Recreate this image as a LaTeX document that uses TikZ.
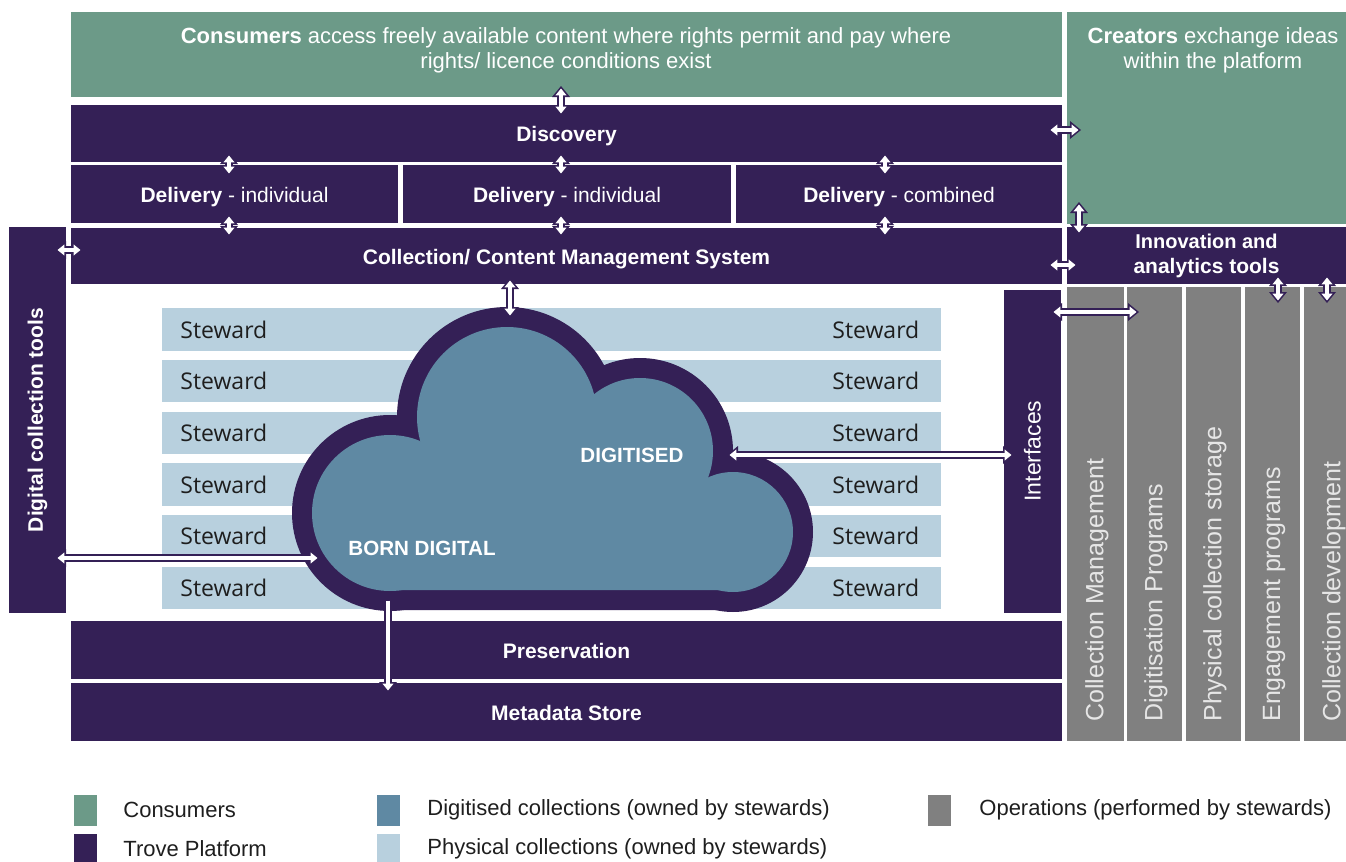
\documentclass[tikz,border=0pt]{standalone}
\usepackage{fontspec}
\setmainfont{Liberation Sans}
\newfontfamily\stewfont{Open Sans}
\usetikzlibrary{arrows.meta}
\definecolor{tgreen}{HTML}{6C9A88}
\definecolor{tpurple}{HTML}{342056}
\definecolor{tcloud}{HTML}{5F89A3}
\definecolor{tlight}{HTML}{B8D0DE}
\definecolor{tgray}{HTML}{808080}
\definecolor{tgtext}{HTML}{E6E6E6}
\definecolor{ttext}{HTML}{1E1E1E}
\newcommand\bx[7]{\node[#6, minimum width={(#4-#2)*0.5pt}, minimum height={(#5-#3)*0.5pt}] (#1) at ({(#2+#4)/2},{(#3+#5)/2}) {#7};}
\newcommand\dblarr[2]{\draw[arrout,tipo-tipo] (#1) -- (#2); \draw[arrin,tipi-tipi] (#1) -- (#2);}
\newcommand\sglarr[2]{\draw[arrout,-tipo] (#1) -- (#2); \draw[arrin,-tipi] (#1) -- (#2);}
\tikzset{
  pbox/.style={rectangle, inner sep=0pt, outer sep=0pt, fill=tpurple, text=white, align=center, font=\bfseries\fontsize{10.5}{12.5}\selectfont},
  box/.style={pbox, text height=8.3pt, text depth=0pt},
  gbox/.style={pbox, fill=tgreen},
  graybox/.style={pbox, fill=tgray},
  stewbox/.style={pbox, fill=tlight},
  swatch/.style={pbox},
  txt/.style={inner sep=0pt, outer sep=0pt, align=center, text=white, font=\fontsize{11}{12.5}\selectfont},
  btxt/.style={txt, font=\bfseries\fontsize{10.5}{12.5}\selectfont},
  graytxt/.style={inner sep=0pt, rotate=90, anchor=west, text=tgtext, font=\fontsize{12.5}{14}\selectfont},
  stewtxt/.style={inner sep=0pt, anchor=west, text=ttext, font=\stewfont\fontsize{11.5}{13}\selectfont},
  legtxt/.style={inner sep=0pt, anchor=west, text=ttext, font=\fontsize{11}{13}\selectfont},
  arrout/.style={draw=tpurple, line width=4pt},
  arrin/.style={draw=white, line width=2.4pt, shorten <=1.26pt, shorten >=1.26pt},
  tipo/.tip={Triangle[length=5.5pt,width=9pt,line width=0pt]},
  tipi/.tip={Triangle[length=3.45pt,width=5.6pt,line width=0pt]},
}
\begin{document}
\begin{tikzpicture}[x=0.5pt,y=-0.5pt]
\useasboundingbox (0,0) rectangle (1346,862);
% consumers / creators
\bx{consumers}{71}{12}{1062}{97}{gbox}{}
\node[txt] (constext) at (566,50) {\textbf{Consumers} access freely available content where rights permit and pay where\\rights/ licence conditions exist};
\bx{creators}{1067}{12}{1346}{224}{gbox}{}
\node[txt] (cretext) at (1213,50) {\textbf{Creators} exchange ideas\\within the platform};
% platform rows
\bx{disc}{71}{105}{1062}{162}{box}{Discovery}
\bx{del1}{71}{165}{398}{223}{box}{\mdseries\textbf{Delivery} - individual}
\bx{del2}{403}{165}{731}{223}{box}{\mdseries\textbf{Delivery} - individual}
\bx{del3}{736}{165}{1062}{223}{box}{\mdseries\textbf{Delivery} - combined}
\bx{cms}{71}{228}{1062}{284}{box}{Collection/ Content Management System}
\bx{innov}{1067}{227}{1346}{284}{pbox}{\fontsize{10}{12.5}\selectfont Innovation and\\analytics tools}
\bx{dtools}{9}{227}{66}{613}{pbox}{}
\node[btxt, rotate=90] (dtoolstext) at (37.5,420) {Digital collection tools};
\bx{interf}{1004}{290}{1061}{613}{pbox}{}
\node[txt, rotate=90, font=\fontsize{11.5}{13}\selectfont] (interftext) at (1032.5,451) {Interfaces};
\bx{pres}{71}{621}{1062}{679}{box}{Preservation}
\bx{meta}{71}{683}{1062}{741}{box}{Metadata Store}
% operations columns
\bx{op1}{1067}{287}{1124}{741}{graybox}{}
\bx{op2}{1127}{287}{1182}{741}{graybox}{}
\bx{op3}{1186}{287}{1241}{741}{graybox}{}
\bx{op4}{1245}{287}{1300}{741}{graybox}{}
\bx{op5}{1304}{287}{1346}{741}{graybox}{}
\node[graytxt] (op1t) at (1097,722) {Collection Management};
\node[graytxt] (op2t) at (1156,722) {Digitisation Programs};
\node[graytxt] (op3t) at (1215,722) {Physical collection storage};
\node[graytxt] (op4t) at (1274,722) {Engagement programs};
\node[graytxt] (op5t) at (1334,722) {Collection development};
% stewards
\bx{s1}{162}{308}{941}{351}{stewbox}{}
\bx{s2}{162}{360}{941}{402}{stewbox}{}
\bx{s3}{162}{412}{941}{454}{stewbox}{}
\bx{s4}{162}{463}{941}{506}{stewbox}{}
\bx{s5}{162}{515}{941}{557}{stewbox}{}
\bx{s6}{162}{567}{941}{609}{stewbox}{}
\foreach \n/\y in {1/329.5,2/381,3/433,4/484.5,5/536,6/588}{
  \node[stewtxt] (sl\n) at (180,\y) {Steward};
  \node[stewtxt] (sr\n) at (832,\y) {Steward};
}
% cloud
\fill[tpurple] (390,513) circle[radius=98];
\fill[tpurple] (507,417) circle[radius=110];
\fill[tpurple] (640,451) circle[radius=93];
\fill[tpurple] (733,532) circle[radius=80];
\fill[tpurple] (390,513) -- (507,417) -- (640,451) -- (733,532) -- (733,610) -- (390,610) -- cycle;
\fill[tcloud] (390,513) circle[radius=78];
\fill[tcloud] (507,417) circle[radius=90];
\fill[tcloud] (640,451) circle[radius=73];
\fill[tcloud] (733,532) circle[radius=60];
\fill[tcloud] (390,513) -- (507,417) -- (640,451) -- (733,532) -- (733,590) -- (390,590) -- cycle;
\node[btxt, font=\bfseries\fontsize{10.3}{12}\selectfont] (digitised) at (632,455) {DIGITISED};
\node[btxt, font=\bfseries\fontsize{10.3}{12}\selectfont] (borndig) at (422,548) {BORN DIGITAL};
% connector end points
\coordinate (c1a) at (561,86);   \coordinate (c1b) at (561,116);
\coordinate (d1a) at (229,153);  \coordinate (d1b) at (229,176);
\coordinate (d2a) at (561,153);  \coordinate (d2b) at (561,176);
\coordinate (d3a) at (885,153);  \coordinate (d3b) at (885,176);
\coordinate (e1a) at (229,214);  \coordinate (e1b) at (229,237);
\coordinate (e2a) at (561,214);  \coordinate (e2b) at (561,237);
\coordinate (e3a) at (885,214);  \coordinate (e3b) at (885,237);
\coordinate (f1a) at (1048,130); \coordinate (f1b) at (1081,130);
\coordinate (f2a) at (1048,265); \coordinate (f2b) at (1078,265);
\coordinate (f3a) at (1079,202); \coordinate (f3b) at (1079,235);
\coordinate (g1a) at (55,250);   \coordinate (g1b) at (83,250);
\coordinate (h1a) at (1278,275); \coordinate (h1b) at (1278,303);
\coordinate (h2a) at (1327,275); \coordinate (h2b) at (1327,303);
\coordinate (i1a) at (1051,312); \coordinate (i1b) at (1139,312);
\coordinate (i2a) at (727,455);  \coordinate (i2b) at (1014,455);
\coordinate (j1a) at (55,558);   \coordinate (j1b) at (320,558);
\coordinate (k1a) at (510,278);  \coordinate (k1b) at (510,318);
\coordinate (m1a) at (388,598);  \coordinate (m1b) at (388,693);
\dblarr{c1a}{c1b}
\dblarr{d1a}{d1b} \dblarr{d2a}{d2b} \dblarr{d3a}{d3b}
\dblarr{e1a}{e1b} \dblarr{e2a}{e2b} \dblarr{e3a}{e3b}
\dblarr{f1a}{f1b} \dblarr{f2a}{f2b} \dblarr{f3a}{f3b}
\dblarr{g1a}{g1b}
\dblarr{h1a}{h1b} \dblarr{h2a}{h2b}
\dblarr{i1a}{i1b} \dblarr{i2a}{i2b}
\dblarr{j1a}{j1b}
\dblarr{k1a}{k1b}
\sglarr{m1a}{m1b}
% legend
\bx{lg1}{74}{795}{97}{826}{swatch, fill=tgreen}{}
\bx{lg2}{74}{834}{97}{862}{swatch, fill=tpurple}{}
\bx{lg3}{377}{795}{400}{826}{swatch, fill=tcloud}{}
\bx{lg4}{377}{834}{400}{862}{swatch, fill=tlight}{}
\bx{lg5}{928}{795}{951}{826}{swatch, fill=tgray}{}
\node[legtxt] (lt1) at (123,810) {Consumers};
\node[legtxt] (lt2) at (123,849) {Trove Platform};
\node[legtxt] (lt3) at (427,810) {Digitised collections (owned by stewards)};
\node[legtxt] (lt4) at (427,849) {Physical collections (owned by stewards)};
\node[legtxt] (lt5) at (979,810) {Operations (performed by stewards)};
\end{tikzpicture}
\end{document}
